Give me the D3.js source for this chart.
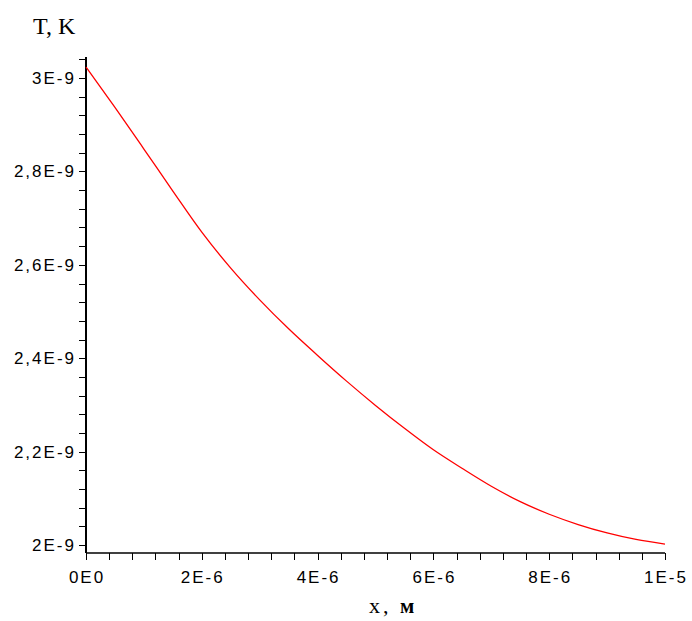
<!DOCTYPE html>
<html>
<head>
<meta charset="utf-8">
<script src="https://cdn.jsdelivr.net/npm/d3@7"></script>
<style>
  html, body { margin: 0; padding: 0; background: #fff; }
  svg { display: block; }
</style>
</head>
<body>
<svg id="chart" width="692" height="621"></svg>
<script>
// Data (x in metres, T in kelvin)
const xValues = [0, 0.5e-6, 1e-6, 1.5e-6, 2e-6, 2.5e-6, 3e-6, 3.5e-6, 4e-6, 4.5e-6, 5e-6,
                 5.5e-6, 6e-6, 6.5e-6, 7e-6, 7.5e-6, 8e-6, 8.5e-6, 9e-6, 9.5e-6, 1e-5];
const tValues = [3.0235e-9, 2.937e-9, 2.848e-9, 2.758e-9, 2.670e-9, 2.593e-9, 2.525e-9, 2.463e-9,
                 2.406e-9, 2.351e-9, 2.299e-9, 2.250e-9, 2.204e-9, 2.164e-9, 2.126e-9, 2.093e-9,
                 2.066e-9, 2.044e-9, 2.026e-9, 2.012e-9, 2.002e-9];
const xTickValues = [0, 2e-6, 4e-6, 6e-6, 8e-6, 1e-5];
const xTickLabels = ["0E0", "2E-6", "4E-6", "6E-6", "8E-6", "1E-5"];
const yTickValues = [2.0e-9, 2.2e-9, 2.4e-9, 2.6e-9, 2.8e-9, 3.0e-9];
const yTickLabels = ["2E-9", "2,2E-9", "2,4E-9", "2,6E-9", "2,8E-9", "3E-9"];
const xMinorStep = 0.4e-6;
const yMinorStep = 0.04e-9;
const yTitle = "T, K";
const xTitle = ["x,", "м"];

const svg = d3.select("#chart");

const x = d3.scaleLinear().domain([0, 1e-5]).range([86, 665]);
const y = d3.scaleLinear().domain([1.983e-9, 3.045e-9]).range([553, 57]);

const xMinor = d3.range(0, 25 + 1).map(i => i * xMinorStep);
const yMinor = d3.range(0, 27).map(i => 2.0e-9 + i * yMinorStep).filter(v => v <= y.domain()[1]);

// minor + major ticks (no labels) via axis generators
const xAxisTicks = d3.axisBottom(x).tickValues(xMinor).tickSize(7).tickFormat("");
const yAxisTicks = d3.axisLeft(y).tickValues(yMinor).tickSize(7).tickFormat("");

const gx = svg.append("g").attr("transform", "translate(0,553)").call(xAxisTicks);
gx.select(".domain").remove();
gx.selectAll(".tick line").attr("stroke", "#000").attr("stroke-width", 1).attr("shape-rendering", "crispEdges");

const gy = svg.append("g").attr("transform", "translate(86,0)").call(yAxisTicks);
gy.select(".domain").remove();
gy.selectAll(".tick line").attr("stroke", "#000").attr("stroke-width", 1).attr("shape-rendering", "crispEdges");

// axis lines
svg.append("line").attr("x1", 86).attr("x2", 665).attr("y1", 553).attr("y2", 553)
  .attr("stroke", "#000").attr("stroke-width", 1.5);
svg.append("line").attr("x1", 86).attr("x2", 86).attr("y1", 57).attr("y2", 553)
  .attr("stroke", "#000").attr("stroke-width", 2);

// tick labels
const labelFont = "'Liberation Sans', Arial, Helvetica, sans-serif";
svg.append("g").selectAll("text").data(xTickValues).join("text")
  .attr("x", d => x(d) + 1)
  .attr("y", 583)
  .attr("text-anchor", "middle")
  .attr("font-family", labelFont)
  .attr("font-size", 17)
  .attr("letter-spacing", 2)
  .attr("fill", "#000")
  .text((d, i) => xTickLabels[i]);

svg.append("g").selectAll("text").data(yTickValues).join("text")
  .attr("x", 76)
  .attr("y", d => y(d) + 6)
  .attr("text-anchor", "end")
  .attr("font-family", labelFont)
  .attr("font-size", 17)
  .attr("letter-spacing", 2)
  .attr("fill", "#000")
  .text((d, i) => yTickLabels[i]);

// titles
svg.append("text")
  .attr("x", 33).attr("y", 34)
  .attr("font-family", "'Liberation Serif', 'Times New Roman', serif")
  .attr("font-size", 24)
  .attr("fill", "#000")
  .text(yTitle);

const xt = svg.append("text")
  .attr("x", 369).attr("y", 613)
  .attr("font-family", "'Liberation Serif', 'Times New Roman', serif")
  .attr("font-size", 22)
  .attr("fill", "#000");
xt.append("tspan").attr("letter-spacing", 3).text(xTitle[0] + " ");
xt.append("tspan").attr("font-weight", "bold").attr("font-size", 21).text(xTitle[1]);

// curve
const line = d3.line()
  .x((d, i) => x(xValues[i]))
  .y(d => y(d))
  .curve(d3.curveMonotoneX);

svg.append("path")
  .datum(tValues)
  .attr("d", line)
  .attr("fill", "none")
  .attr("stroke", "#ff0000")
  .attr("stroke-width", 1.3);
</script>
</body>
</html>
